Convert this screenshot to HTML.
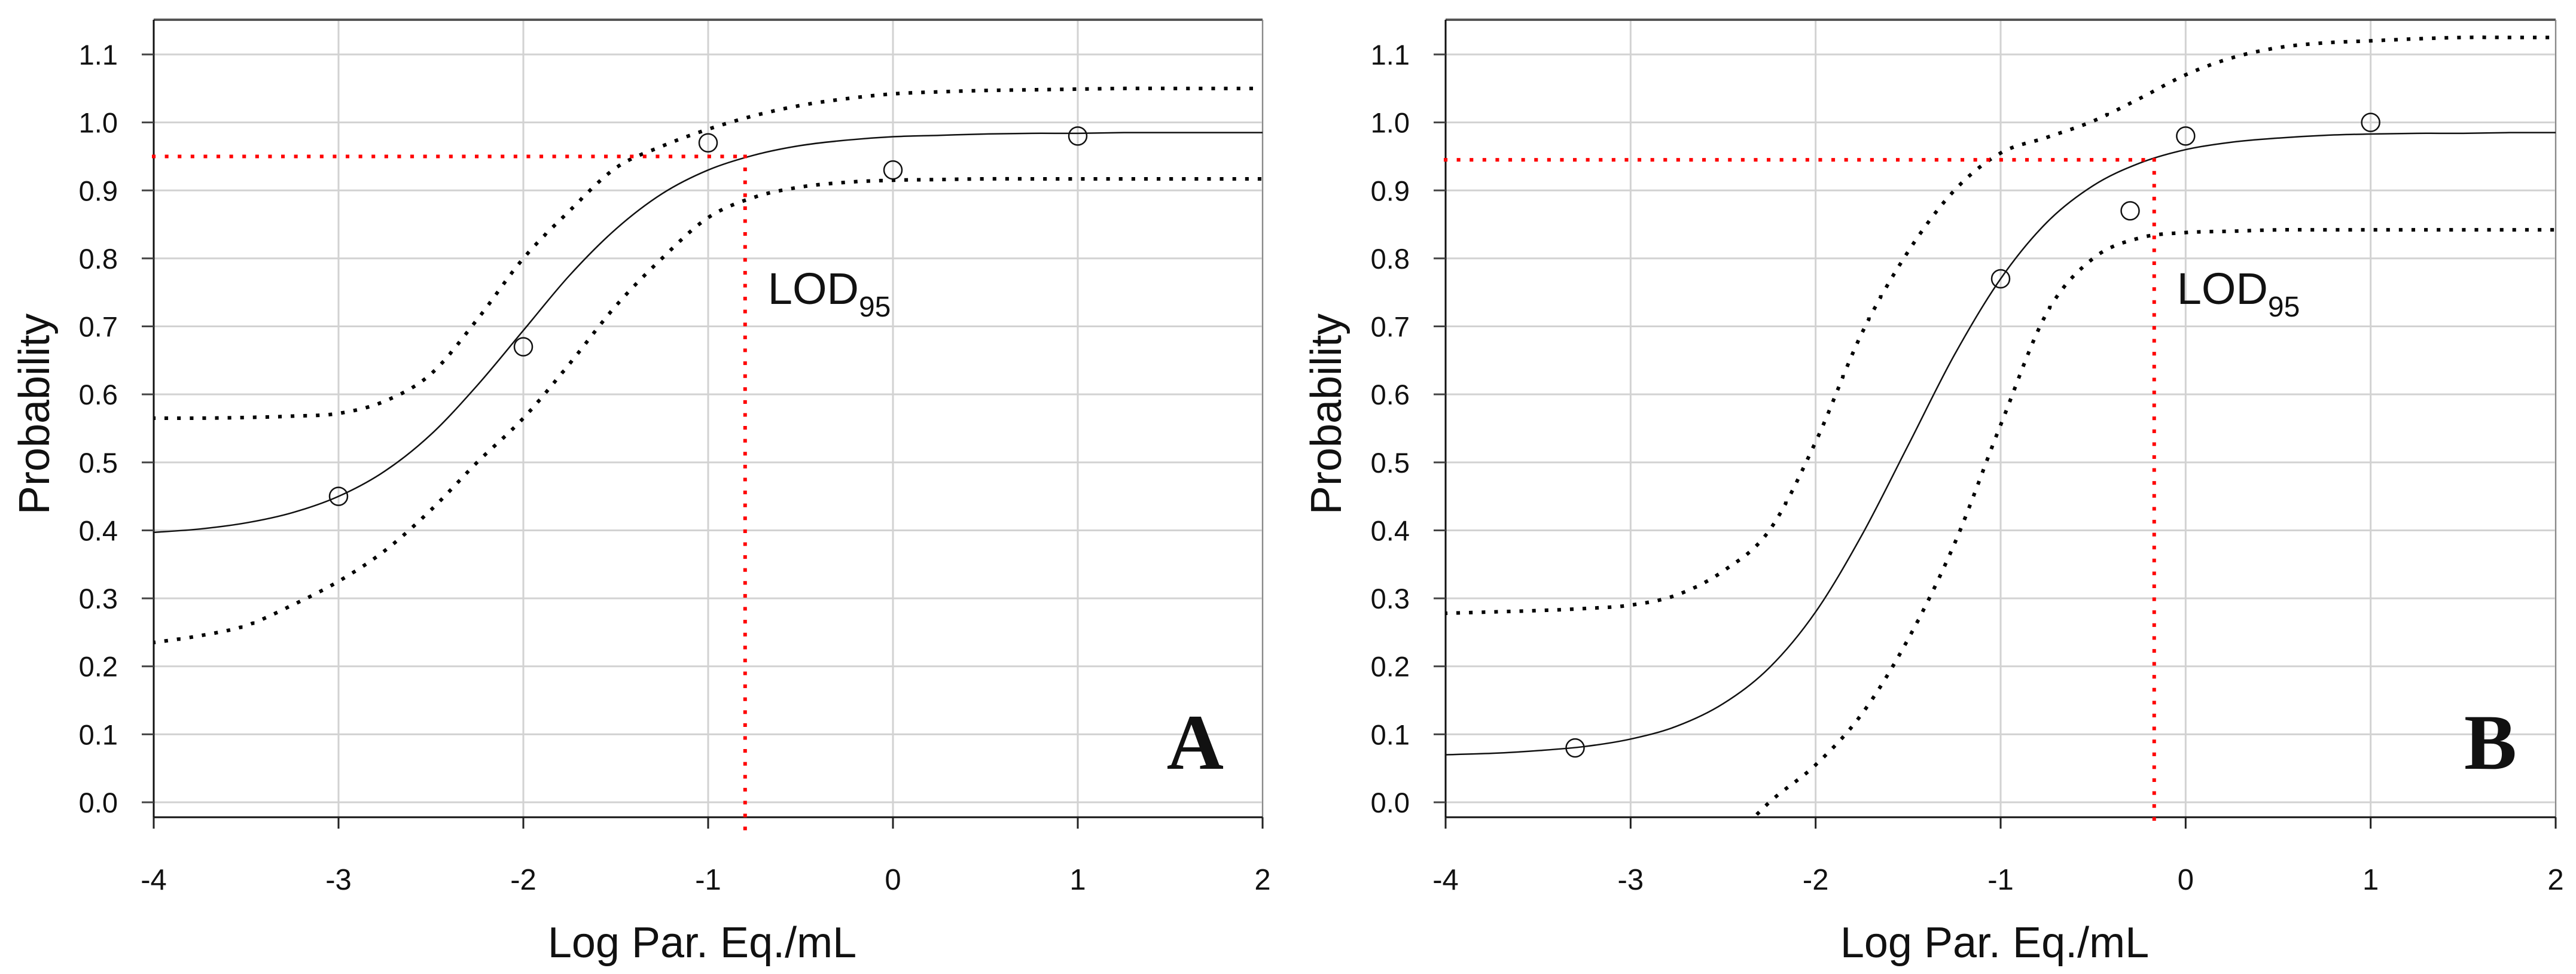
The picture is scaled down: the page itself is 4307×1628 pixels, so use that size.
<!DOCTYPE html>
<html><head><meta charset="utf-8"><style>
html,body{margin:0;padding:0;background:#fff;}
svg{display:block;}
text{font-family:"Liberation Sans",sans-serif;fill:#111;}
</style></head><body>
<svg id="chart" width="4307" height="1628" viewBox="0 0 4307 1628" xmlns="http://www.w3.org/2000/svg"></svg>
<script>
// ---- data ----
const xTicks = [-4,-3,-2,-1,0,1,2];
const yTicks = [0,0.1,0.2,0.3,0.4,0.5,0.6,0.7,0.8,0.9,1.0,1.1];
const yTickLabels = ["0.0","0.1","0.2","0.3","0.4","0.5","0.6","0.7","0.8","0.9","1.0","1.1"];
const curveX = [-4,-3.75,-3.5,-3.25,-3,-2.75,-2.5,-2.25,-2,-1.75,-1.5,-1.25,-1,-0.75,-0.5,-0.25,0,0.25,0.5,0.75,1,1.25,1.5,1.75,2];
const aFit   = [0.397,0.402,0.411,0.426,0.450,0.487,0.541,0.613,0.694,0.775,0.843,0.895,0.930,0.952,0.966,0.974,0.979,0.981,0.983,0.984,0.984,0.985,0.985,0.985,0.985];
const aUpper = [0.565,0.565,0.566,0.568,0.572,0.590,0.630,0.710,0.800,0.870,0.933,0.965,0.990,1.010,1.025,1.035,1.042,1.045,1.047,1.048,1.049,1.050,1.050,1.050,1.050];
const aLower = [0.235,0.245,0.260,0.290,0.325,0.370,0.430,0.500,0.565,0.645,0.730,0.800,0.860,0.890,0.905,0.912,0.915,0.916,0.917,0.917,0.917,0.917,0.917,0.917,0.917];
const aPointsX = [-3,-2,-1,0,1];
const aPointsY = [0.45,0.67,0.97,0.93,0.98];
const aLod = [-0.8,0.95];
const bFit   = [0.070,0.072,0.076,0.082,0.093,0.112,0.145,0.198,0.280,0.393,0.525,0.658,0.770,0.853,0.907,0.940,0.960,0.971,0.977,0.981,0.983,0.984,0.984,0.985,0.985];
const bUpper = [0.278,0.280,0.282,0.285,0.290,0.305,0.340,0.400,0.530,0.690,0.810,0.900,0.955,0.978,1.002,1.035,1.070,1.095,1.110,1.117,1.120,1.123,1.125,1.125,1.125];
const bLowerX = [-2.5,-2.25,-2,-1.75,-1.5,-1.25,-1,-0.75,-0.5,-0.25,0,0.25,0.5,0.75,1,1.25,1.5,1.75,2];
const bLower = [-0.07,0.0,0.055,0.13,0.24,0.38,0.555,0.72,0.80,0.83,0.838,0.840,0.842,0.842,0.842,0.842,0.842,0.842,0.842];
const bPointsX = [-3.3,-1,-0.3,0,1];
const bPointsY = [0.08,0.77,0.87,0.98,1.0];
const bLod = [-0.17,0.945];

const NS="http://www.w3.org/2000/svg";
const svg=document.getElementById('chart');
function mk(tag,attrs,parent){const e=document.createElementNS(NS,tag);for(const k in attrs)e.setAttribute(k,attrs[k]);(parent||svg).appendChild(e);return e;}
function smooth(pts){let d="M"+pts[0][0]+","+pts[0][1];for(let i=0;i<pts.length-1;i++){const p0=pts[Math.max(0,i-1)],p1=pts[i],p2=pts[i+1],p3=pts[Math.min(pts.length-1,i+2)];
const c1=[p1[0]+(p2[0]-p0[0])/6,p1[1]+(p2[1]-p0[1])/6],c2=[p2[0]-(p3[0]-p1[0])/6,p2[1]-(p3[1]-p1[1])/6];
d+=" C"+c1[0]+","+c1[1]+" "+c2[0]+","+c2[1]+" "+p2[0]+","+p2[1];}return d;}

function panel(id,left,right,fit,upper,lowX,lower,px,py,lod,letter){
  const top=33,bottom=1366,y0=1341,y11=91;
  const X=v=>left+(v+4)/6*(right-left);
  const Y=v=>y0-(v)/1.1*(y0-y11);
  const g=mk('g',{});
  
  
  const clipId='clip'+id;
  const cp=mk('clipPath',{id:clipId},g);mk('rect',{x:left,y:top,width:right-left,height:bottom-top},cp);
  xTicks.forEach(t=>{const l=mk('line',{x1:X(t),x2:X(t),y1:top,y2:bottom,stroke:'#d2d2d2','stroke-width':3},g);
    });
  yTicks.forEach(t=>{const l=mk('line',{x1:left,x2:right,y1:Y(t),y2:Y(t),stroke:'#d2d2d2','stroke-width':3},g);
    });
  mk('line',{x1:left,x2:right,y1:top,y2:top,stroke:'#555','stroke-width':4},g);
  mk('line',{x1:right,x2:right,y1:top,y2:bottom,stroke:'#888','stroke-width':2},g);
  const ya=mk('line',{x1:left,x2:left,y1:top,y2:bottom,stroke:'#111','stroke-width':3},g);
  
  const xa=mk('line',{x1:left,x2:right,y1:bottom,y2:bottom,stroke:'#111','stroke-width':3},g);
  
  yTicks.forEach((t,i)=>{mk('line',{x1:left-20,x2:left,y1:Y(t),y2:Y(t),stroke:'#444','stroke-width':3},g);
    const tx=mk('text',{x:left-60,y:Y(t)+17,'text-anchor':'end','font-size':47},g);tx.textContent=yTickLabels[i];
    });
  xTicks.forEach(t=>{mk('line',{x1:X(t),x2:X(t),y1:bottom,y2:bottom+19,stroke:'#222','stroke-width':3},g);
    const tx=mk('text',{x:X(t),y:1487,'text-anchor':'middle','font-size':49},g);tx.textContent=String(t);
    });
  const yt=mk('text',{x:0,y:0,'text-anchor':'middle','font-size':72,transform:'translate('+(left-175)+',692) rotate(-90)'},g);
  yt.textContent='Probability';
  const xt=mk('text',{x:(left+right)/2-10,y:1600,'text-anchor':'middle','font-size':72},g);
  xt.textContent='Log Par. Eq./mL';
  const cg=mk('g',{'clip-path':'url(#'+clipId+')'},g);
  const f=mk('path',{d:smooth(curveX.map((x,i)=>[X(x),Y(fit[i])])),fill:'none',stroke:'#111','stroke-width':2.5},cg);
  
  const u=mk('path',{d:smooth(curveX.map((x,i)=>[X(x),Y(upper[i])])),fill:'none',stroke:'#000','stroke-width':6,'stroke-dasharray':'0.1 21','stroke-linecap':'square'},cg);
  
  const lo=mk('path',{d:smooth(lowX.map((x,i)=>[X(x),Y(lower[i])])),fill:'none',stroke:'#000','stroke-width':6,'stroke-dasharray':'0.1 21','stroke-linecap':'square'},cg);
  
  const lh=mk('line',{x1:left,x2:X(lod[0]),y1:Y(lod[1]),y2:Y(lod[1]),stroke:'#ff0000','stroke-width':6,'stroke-dasharray':'0.1 21.5','stroke-linecap':'square'},g);
  
  const lv=mk('line',{x1:X(lod[0]),x2:X(lod[0]),y1:Y(lod[1]),y2:bottom+20,stroke:'#ff0000','stroke-width':6,'stroke-dasharray':'0.1 21.5','stroke-linecap':'square'},g);
  
  px.forEach((x,i)=>{const c=mk('circle',{cx:X(x),cy:Y(py[i]),r:15,fill:'none',stroke:'#111','stroke-width':2.5},g);
    });
  const lt=mk('text',{x:X(lod[0])+38,y:508,'font-size':74},g);
  
  const t1=mk('tspan',{},lt);t1.textContent='LOD';
  const t2=mk('tspan',{'font-size':48,dy:21},lt);t2.textContent='95';
  const pl=mk('text',{x:right-65,y:1285,'text-anchor':'end','font-size':132,'font-weight':'bold',style:'font-family:"Liberation Serif",serif'},g);
  pl.textContent=letter;
}
panel('a',257,2111,aFit,aUpper,curveX,aLower,aPointsX,aPointsY,aLod,'A');
panel('b',2417,4273,bFit,bUpper,bLowerX,bLower,bPointsX,bPointsY,bLod,'B');
</script>
</body></html>
